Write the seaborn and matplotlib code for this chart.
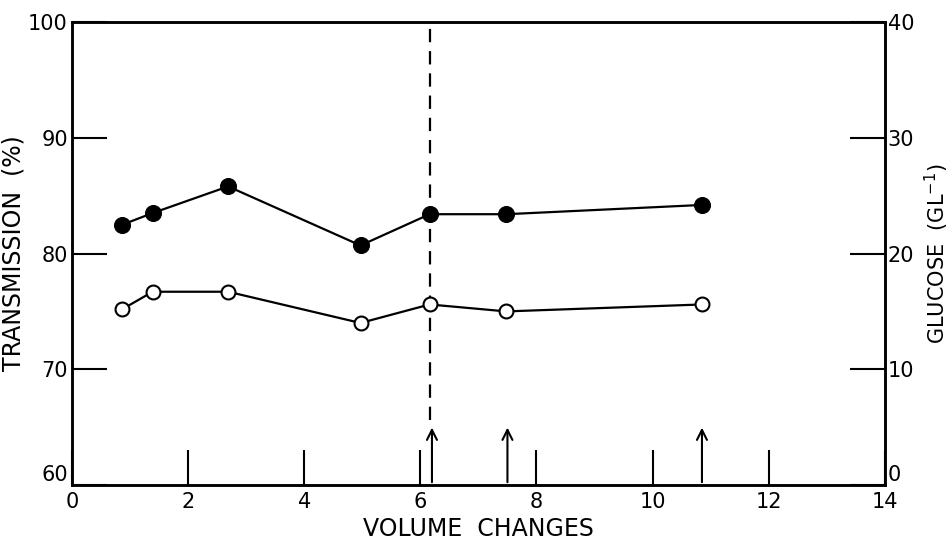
import matplotlib
matplotlib.use("Agg")
import matplotlib.pyplot as plt
import seaborn as sns
import pandas as pd

# values
volume = [0.87, 1.39, 2.69, 4.97, 6.16, 7.48, 10.85]
transmission = [82.5, 83.5, 85.8, 80.7, 83.4, 83.4, 84.2]
glucose = [15.2, 16.7, 16.7, 14.0, 15.6, 15.0, 15.6]
medium_change = [6.2, 7.5, 10.85]
switch_point = 6.16

df = pd.DataFrame({"volume": volume, "transmission": transmission, "glucose": glucose})

sns.set_style("ticks")
plt.rcParams["font.family"] = ["DejaVu Sans"]
plt.rcParams["text.color"] = "black"
plt.rcParams["axes.labelcolor"] = "black"

fig = plt.figure(figsize=(9.53, 5.53), dpi=100)
ax = fig.add_axes([0.0755, 0.123, 0.853, 0.837])
ax2 = ax.twinx()

sns.lineplot(data=df, x="volume", y="transmission", ax=ax, color="black",
             linewidth=1.6, marker="o", markersize=11.5, markerfacecolor="black",
             markeredgecolor="black", estimator=None)
sns.lineplot(data=df, x="volume", y="glucose", ax=ax2, color="black",
             linewidth=1.6, marker="o", markersize=10, markerfacecolor="white",
             markeredgecolor="black", markeredgewidth=1.5, estimator=None)

ax.set_xlim(0, 14)
ax.set_ylim(60, 100)
ax2.set_ylim(0, 40)
ax.set_xticks(range(0, 15, 2))
ax.set_yticks(range(60, 101, 10))
ax2.set_yticks(range(0, 41, 10))

ax.plot([switch_point, switch_point], [65.6, 100], color="black", lw=1.6,
        linestyle=(0, (6, 4)))
for xv in medium_change:
    ax.annotate("", xy=(xv, 65.2), xytext=(xv, 60),
                arrowprops=dict(arrowstyle="->", color="black", lw=1.5,
                                mutation_scale=18))

for a in (ax, ax2):
    for s in a.spines.values():
        s.set_linewidth(1.8)
        s.set_color("black")
        s.set_visible(True)
ax.tick_params(axis="both", direction="in", length=25, width=1.5,
               labelsize=15, pad=3, colors="black")
ax.tick_params(axis="x", pad=5)
ax2.tick_params(axis="y", direction="in", length=25, width=1.5,
                labelsize=15, pad=2, colors="black")

# corner labels sit just above the bottom spine, as in the original
ax.get_yticklabels()[0].set_verticalalignment("bottom")
ax2.get_yticklabels()[0].set_verticalalignment("bottom")

ax.set_xlabel("VOLUME  CHANGES", fontsize=17, labelpad=4)
ax.set_ylabel("TRANSMISSION  (%)", fontsize=17, labelpad=2)
ax2.set_ylabel("GLUCOSE  (GL$^{-1}$)", fontsize=15, labelpad=6)

fig.savefig("out.png", dpi=100)
